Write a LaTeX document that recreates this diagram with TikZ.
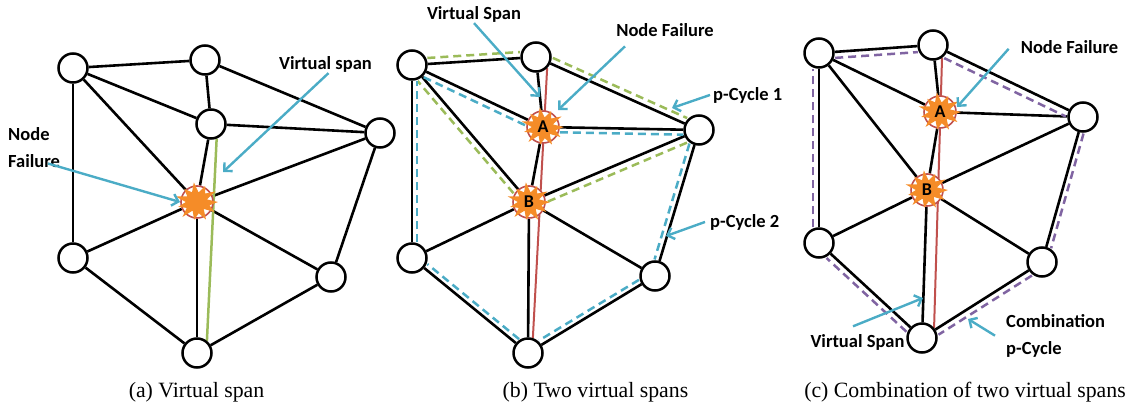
\documentclass[tikz,border=0pt]{standalone}
\usepackage{fontspec}
\setmainfont{Liberation Serif}
\newfontfamily\lblfont{Carlito}
\usetikzlibrary{arrows.meta,backgrounds,calc}

\definecolor{calloutcyan}{RGB}{75,172,198}
\definecolor{spangreen}{RGB}{155,187,89}
\definecolor{spanred}{RGB}{192,80,77}
\definecolor{cyclepurple}{RGB}{128,100,162}
\definecolor{burstorange}{RGB}{245,140,40}

\tikzset{
  vertex/.style={circle, draw=black, line width=2.5pt, fill=white,
    minimum size=29pt, inner sep=0pt},
  failring/.style={circle, draw=spanred, line width=1.6pt, fill=white,
    minimum size=32pt, inner sep=0pt},
  failtext/.style={font=\lblfont\bfseries\fontsize{18}{20}\selectfont,
    inner sep=0pt},
  link/.style={line width=2.6pt, black},
  greenspan/.style={line width=2.5pt, spangreen},
  redspan/.style={line width=2pt, spanred},
  cyclegreen/.style={line width=2.5pt, spangreen, dash pattern=on 8pt off 5pt},
  cycleblue/.style={line width=2.5pt, calloutcyan, dash pattern=on 8pt off 5pt},
  cyclepurp/.style={line width=2.5pt, cyclepurple, dash pattern=on 8pt off 5pt},
  callout/.style={line width=2.4pt, calloutcyan,
    -{Straight Barb[length=6pt,width=12pt]}},
  lbl/.style={font=\lblfont\bfseries\fontsize{18.5}{27}\selectfont,
    inner sep=0pt},
  caption/.style={font=\fontsize{21.8}{26}\selectfont, inner sep=0pt},
  % irregular orange starburst marking a failed node
  burst/.pic={
    \fill[burstorange, xscale=1.12]
      plot[samples at={0,...,21}, variable=\k]
        ({\k*360/22}:{14.5+4.2*cos(\k*180)+1.3*sin(\k*97)}) -- cycle;
  }
}

\begin{document}
\begin{tikzpicture}[x=1pt,y=-1pt]
\useasboundingbox (0,0) rectangle (1129,404);

% ---------- (a) one failed node ----------
\node[vertex]   (a1) at (73,68)   {};
\node[vertex]   (a2) at (205,60)  {};
\node[vertex]   (aA) at (211,124) {};
\node[vertex]   (a3) at (380,133) {};
\node[failring] (aB) at (197,202) {};
\node[vertex]   (a4) at (73,258)  {};
\node[vertex]   (a5) at (331,277) {};
\node[vertex]   (a6) at (197,353) {};
\pic at (aB) {burst};

% ---------- (b) two failed nodes, two p-cycles ----------
\node[vertex]   (b1) at (412,65)  {};
\node[vertex]   (b2) at (536,57)  {};
\node[failring] (bA) at (543,127) {};
\node[vertex]   (b3) at (699,130) {};
\node[failring] (bB) at (529,202) {};
\node[vertex]   (b4) at (412,258) {};
\node[vertex]   (b5) at (655,276) {};
\node[vertex]   (b6) at (528,353) {};
\pic at (bA) {burst};
\pic at (bB) {burst};
\node[failtext] (bAt) at (bA) {A};
\node[failtext] (bBt) at (bB) {B};

% ---------- (c) combined p-cycle ----------
\node[vertex]   (c1) at (819,53)   {};
\node[vertex]   (c2) at (933,45)   {};
\node[failring] (cA) at (940,112)  {};
\node[vertex]   (c3) at (1083,117) {};
\node[failring] (cB) at (927,190)  {};
\node[vertex]   (c4) at (819,243)  {};
\node[vertex]   (c5) at (1042,262) {};
\node[vertex]   (c6) at (922,338)  {};
\pic at (cA) {burst};
\pic at (cB) {burst};
\node[failtext] (cAt) at (cA) {A};
\node[failtext] (cBt) at (cB) {B};

\begin{scope}[on background layer]
  % network links, same topology in every panel
  \foreach \p in {a,b,c}{
    \foreach \u/\v in {1/2,1/A,1/B,1/4,2/A,2/3,A/3,A/B,3/B,3/5,B/4,B/6,B/5,4/6,6/5}
      \draw[link] (\p\u) -- (\p\v);
  }
  % virtual spans
  \draw[greenspan] (aA.-69) -- (a6.51);
  \draw[redspan] (b2.-45) -- (b6.72);
  \draw[redspan] (c2.-55) -- (c6.40);
  % p-cycle 1
  \draw[cyclegreen, transform canvas={shift={(-0.4,-6)}}] (b1) -- (b2);
  \draw[cyclegreen, transform canvas={shift={(2.5,-5.5)}}] (b2) -- (b3);
  \draw[cyclegreen, transform canvas={shift={(2.5,6.5)}}]  (b3) -- (bB);
  \draw[cyclegreen, transform canvas={shift={(-4.6,4)}}]   (bB) -- (b1);
  % p-cycle 2
  \draw[cycleblue, transform canvas={shift={(-2.5,5.5)}}] (b1) -- (bA);
  \draw[cycleblue, transform canvas={shift={(0,5)}}]      (bA) -- (b3);
  \draw[cycleblue, transform canvas={shift={(-5,-1.5)}}]  (b3) -- (b5);
  \draw[cycleblue, transform canvas={shift={(-2.6,-4.3)}}] (b5) -- (b6);
  \draw[cycleblue, transform canvas={shift={(3.2,-3.9)}}] (b6) -- (b4);
  \draw[cycleblue, transform canvas={shift={(5,0)}}]      (b4) -- (b1);
  % combination p-cycle
  \draw[cyclepurp, transform canvas={shift={(0.5,6)}}]   (c1) -- (c2);
  \draw[cyclepurp, transform canvas={shift={(-3,6.3)}}]  (c2) -- (c3);
  \draw[cyclepurp, transform canvas={shift={(4.8,1.4)}}] (c3) -- (c5);
  \draw[cyclepurp, transform canvas={shift={(3.2,5.1)}}] (c5) -- (c6);
  \draw[cyclepurp, transform canvas={shift={(-4,4.4)}}]  (c6) -- (c4);
  \draw[cyclepurp, transform canvas={shift={(-6,0)}}]    (c4) -- (c1);
\end{scope}

% ---------- labels and callouts ----------
\node[lbl, anchor=base] (aVS) at (325.5,70) {Virtual span};
\node[lbl, anchor=north west, align=left] (aNF) at (8,127) {Node\\Failure};
\coordinate (aVStip) at (223,172);
\coordinate (aNFtip) at (180,202);
\draw[callout] ([xshift=3pt]aVS.south) -- (aVStip);
\draw[callout] ([xshift=40pt,yshift=4pt]aNF.south west) -- (aNFtip);

\node[lbl, anchor=base] (bVS) at (474,20) {Virtual Span};
\node[lbl, anchor=base] (bNF) at (665,37) {Node Failure};
\node[lbl, anchor=base west] (bP1) at (713,100) {p-Cycle 1};
\node[lbl, anchor=base west] (bP2) at (710,227) {p-Cycle 2};
\coordinate (bVStip) at (540,97);
\coordinate (bNFtip) at (558,110);
\coordinate (bP1tip) at (672,108);
\coordinate (bP2tip) at (666,236);
\draw[callout] (bVS.south) -- (bVStip);
\draw[callout] ([xshift=-40pt,yshift=-9pt]bNF.south) -- (bNFtip);
\draw[callout] ([xshift=-3pt]bP1.west) -- (bP1tip);
\draw[callout] ([xshift=-5pt]bP2.west) -- (bP2tip);

\node[lbl, anchor=base] (cNF) at (1069.5,53) {Node Failure};
\node[lbl, anchor=base] (cVS) at (857.5,347) {Virtual Span};
\node[lbl, anchor=north west, align=left] (cCP) at (1006,314) {Combination\\p-Cycle};
\coordinate (cNFtip) at (957,107);
\coordinate (cVStip) at (923,298);
\coordinate (cCPtip) at (968,319);
\draw[callout] ([xshift=-12pt,yshift=4.5pt]cNF.south west) -- (cNFtip);
\draw[callout] ([xshift=-4.5pt,yshift=7.5pt]cVS.north) -- (cVStip);
\draw[callout] ([xshift=-11pt]cCP.west) -- (cCPtip);

% ---------- sub-captions ----------
\node[caption, anchor=base] (capA) at (196.5,397) {(a) Virtual span};
\node[caption, anchor=base] (capB) at (595.5,397) {(b) Two virtual spans};
\node[caption, anchor=base] (capC) at (965,397) {(c) Combination of two virtual spans};
\end{tikzpicture}
\end{document}
